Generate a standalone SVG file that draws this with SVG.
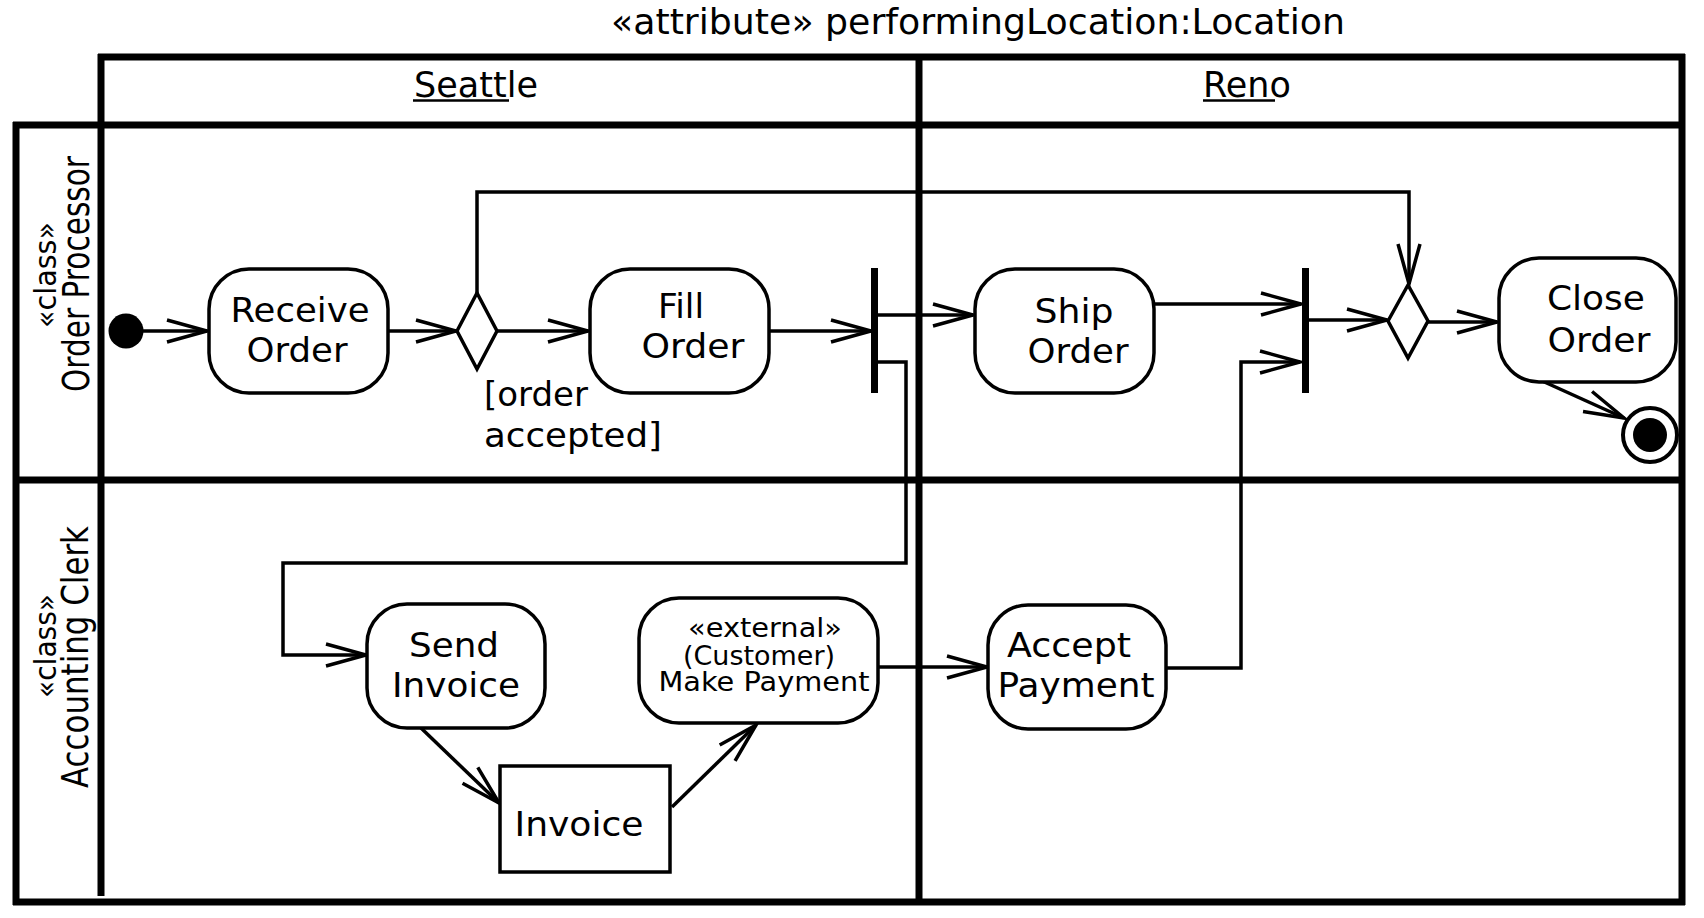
<svg xmlns="http://www.w3.org/2000/svg" width="1704" height="918" viewBox="0 0 1704 918">
<defs>
<style>
text{font-family:"DejaVu Sans","Liberation Sans",sans-serif;fill:#000}
.frame{stroke:#000;stroke-width:7;fill:none}
.conn{stroke:#000;stroke-width:3.5;fill:none;marker-end:url(#arr)}
.act{fill:#fff;stroke:#000;stroke-width:3.5}
.lbl{font-size:33px;text-anchor:middle}
.sm{font-size:26px;text-anchor:middle}
.hdr{font-size:35px;text-anchor:middle}
.lane{font-size:38px;text-anchor:middle}
.st{font-size:31px;text-anchor:middle}
</style>
<marker id="arr" markerUnits="userSpaceOnUse" markerWidth="50" markerHeight="30" refX="40" refY="12" orient="auto" overflow="visible">
<path d="M0,1 L40,12 L0,23" fill="none" stroke="#000" stroke-width="3.5"/>
</marker>
</defs>
<rect width="1704" height="918" fill="#fff"/>

<g id="title">
<text x="978" y="34" font-size="35" text-anchor="middle" textLength="734" lengthAdjust="spacingAndGlyphs">«attribute» performingLocation:Location</text>
</g>

<g id="partitions">
<line class="frame" x1="98" y1="57" x2="1685" y2="57"/>
<line class="frame" x1="1682" y1="54" x2="1682" y2="905"/>
<line class="frame" x1="13" y1="125" x2="1685" y2="125"/>
<line class="frame" x1="16" y1="122" x2="16" y2="905"/>
<line class="frame" x1="101" y1="54" x2="101" y2="896"/>
<line class="frame" x1="13" y1="480" x2="1685" y2="480"/>
<line class="frame" x1="13" y1="902" x2="1685" y2="902"/>
<line class="frame" x1="919" y1="57" x2="919" y2="902"/>
</g>

<g id="hdr-seattle">
<text class="hdr" x="476" y="97">Seattle</text>
<line x1="413" y1="100.5" x2="509" y2="100.5" stroke="#000" stroke-width="2.5"/>
</g>
<g id="hdr-reno">
<text class="hdr" x="1247" y="97">Reno</text>
<line x1="1203" y1="100.5" x2="1275" y2="100.5" stroke="#000" stroke-width="2.5"/>
</g>

<g id="lane-order-processor">
<text class="st" transform="translate(56,275) rotate(-90)" textLength="106" lengthAdjust="spacingAndGlyphs">«class»</text>
<text class="lane" transform="translate(89,274) rotate(-90)" textLength="236" lengthAdjust="spacingAndGlyphs">Order Processor</text>
</g>
<g id="lane-accounting-clerk">
<text class="st" transform="translate(56,646) rotate(-90)" textLength="104" lengthAdjust="spacingAndGlyphs">«class»</text>
<text class="lane" transform="translate(88,657) rotate(-90)" textLength="262" lengthAdjust="spacingAndGlyphs">Accounting Clerk</text>
</g>

<g id="connectors">
<path class="conn" d="M143,331 H207"/>
<path class="conn" d="M388,331 H456"/>
<path class="conn" d="M497,331 H588"/>
<path class="conn" d="M477,293 V192 H1409 V284"/>
<path class="conn" d="M769,331 H871"/>
<path class="conn" d="M878,315 H973"/>
<path class="conn" d="M878,362 H906 V563 H283 V655 H366"/>
<path class="conn" d="M1154,304 H1301"/>
<path class="conn" d="M1166,668 H1241 V362 H1300"/>
<path class="conn" d="M1309,320 H1387"/>
<path class="conn" d="M1428,322 H1497"/>
<path class="conn" d="M1540,380 L1624,418"/>
<path class="conn" d="M421,728 L499,803"/>
<path class="conn" d="M672,807 L756,725"/>
<path class="conn" d="M878,667 H987"/>
<text x="484" y="406" font-size="34">[order</text>
<text x="484" y="447" font-size="34" textLength="178" lengthAdjust="spacingAndGlyphs">accepted]</text>
</g>

<g id="initial">
<circle cx="126" cy="331" r="17.5" fill="#000"/>
</g>

<g id="receive-order">
<rect class="act" x="209" y="269" width="179" height="124" rx="40" ry="40"/>
<text class="lbl" x="300" y="322" textLength="139" lengthAdjust="spacingAndGlyphs">Receive</text>
<text class="lbl" x="297" y="362" textLength="101" lengthAdjust="spacingAndGlyphs">Order</text>
</g>

<g id="decision1">
<polygon points="457,331 477,293 497,331 477,369" fill="#fff" stroke="#000" stroke-width="3.5"/>
</g>

<g id="fill-order">
<rect class="act" x="590" y="269" width="179" height="124" rx="40" ry="40"/>
<text class="lbl" x="681" y="318" textLength="46" lengthAdjust="spacingAndGlyphs">Fill</text>
<text class="lbl" x="693" y="358" textLength="103" lengthAdjust="spacingAndGlyphs">Order</text>
</g>

<g id="fork1">
<rect x="871" y="268" width="7" height="125" fill="#000"/>
</g>

<g id="ship-order">
<rect class="act" x="975" y="269" width="179" height="124" rx="40" ry="40"/>
<text class="lbl" x="1074" y="323" textLength="79" lengthAdjust="spacingAndGlyphs">Ship</text>
<text class="lbl" x="1078" y="363" textLength="101" lengthAdjust="spacingAndGlyphs">Order</text>
</g>

<g id="fork2">
<rect x="1302" y="268" width="7" height="125" fill="#000"/>
</g>

<g id="decision2">
<polygon points="1388,321 1408,285 1428,321 1408,358" fill="#fff" stroke="#000" stroke-width="3.5"/>
</g>

<g id="close-order">
<rect class="act" x="1499" y="258" width="177" height="124" rx="40" ry="40"/>
<text class="lbl" x="1596" y="310" textLength="98" lengthAdjust="spacingAndGlyphs">Close</text>
<text class="lbl" x="1599" y="352" textLength="103" lengthAdjust="spacingAndGlyphs">Order</text>
</g>

<g id="final">
<circle cx="1650" cy="435" r="27" fill="#fff" stroke="#000" stroke-width="4"/>
<circle cx="1650" cy="435" r="17" fill="#000"/>
</g>

<g id="send-invoice">
<rect class="act" x="367" y="604" width="178" height="124" rx="40" ry="40"/>
<text class="lbl" x="454" y="657" textLength="90" lengthAdjust="spacingAndGlyphs">Send</text>
<text class="lbl" x="456" y="697" textLength="128" lengthAdjust="spacingAndGlyphs">Invoice</text>
</g>

<g id="invoice">
<rect x="500" y="766" width="170" height="106" fill="#fff" stroke="#000" stroke-width="3.5"/>
<text class="lbl" x="579" y="836" textLength="129" lengthAdjust="spacingAndGlyphs">Invoice</text>
</g>

<g id="make-payment">
<rect class="act" x="639" y="598" width="239" height="125" rx="40" ry="40"/>
<text class="sm" x="765" y="637" textLength="154" lengthAdjust="spacingAndGlyphs">«external»</text>
<text class="sm" x="759" y="665" textLength="152" lengthAdjust="spacingAndGlyphs">(Customer)</text>
<text class="sm" x="764" y="691" textLength="211" lengthAdjust="spacingAndGlyphs">Make Payment</text>
</g>

<g id="accept-payment">
<rect class="act" x="988" y="605" width="178" height="124" rx="40" ry="40"/>
<text class="lbl" x="1069" y="657" textLength="124" lengthAdjust="spacingAndGlyphs">Accept</text>
<text class="lbl" x="1076" y="697" textLength="157" lengthAdjust="spacingAndGlyphs">Payment</text>
</g>
</svg>
